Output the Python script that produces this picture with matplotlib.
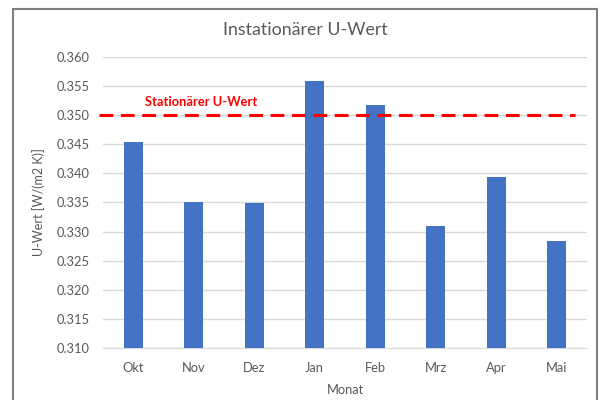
import matplotlib.pyplot as plt
from matplotlib.patches import Rectangle

plt.rcParams['font.family'] = ['Lato', 'DejaVu Sans']

# data
monate = ["Okt", "Nov", "Dez", "Jan", "Feb", "Mrz", "Apr", "Mai"]
u_wert = [0.3454, 0.3351, 0.3349, 0.3558, 0.3518, 0.3310, 0.3394, 0.3283]
u_stationaer = 0.350
yticks = [0.310, 0.315, 0.320, 0.325, 0.330, 0.335, 0.340, 0.345, 0.350, 0.355, 0.360]

grey = "#595959"

fig = plt.figure(figsize=(6, 4), dpi=100)
ax = fig.add_axes([0.1717, 0.13, 0.8066, 0.7275])

x = list(range(len(monate)))
ax.bar(x, u_wert, width=0.31, color="#4472c4", zorder=3)

# stationary value as dashed line
ax.plot([-0.57, 7.3], [u_stationaer, u_stationaer], color="#ff0000", lw=2.2,
        dashes=(4.5, 2.5), zorder=4, clip_on=False)
ax.text(0.2, u_stationaer + 0.0022, "Stationärer U-Wert", color="#ff0000",
        fontsize=9.3, fontweight="bold", va="center", ha="left")

ax.set_xlim(-0.5, 7.5)
ax.set_ylim(0.310, 0.360)
ax.set_yticks(yticks)
ax.set_yticklabels([f"{v:.3f}" for v in yticks])
ax.set_xticks(x)
ax.set_xticklabels(monate)
ax.tick_params(axis="both", length=0, colors=grey, labelsize=9.3)
ax.tick_params(axis="y", pad=10)
ax.tick_params(axis="x", pad=10)

ax.grid(axis="y", color="#d9d9d9", lw=1, zorder=0)
for s in ["left", "right", "top"]:
    ax.spines[s].set_visible(False)
ax.spines["bottom"].set_color("#d9d9d9")

fig.text(305 / 600, 1 - 30 / 400, "Instationärer U-Wert", fontsize=12.8,
         color=grey, ha="center", va="center")
ax.set_xlabel("Monat", fontsize=9.3, color=grey, labelpad=7)
ax.set_ylabel("U-Wert [W/(m2 K)]", fontsize=9, color=grey, labelpad=8)

# chart border
fig.patches.append(Rectangle((13 / 600, -0.05), 584 / 600, 0.05 + 391 / 400,
                             transform=fig.transFigure, fill=False,
                             edgecolor="#7f7f7f", lw=1.5))

fig.savefig("out.png", dpi=100)
